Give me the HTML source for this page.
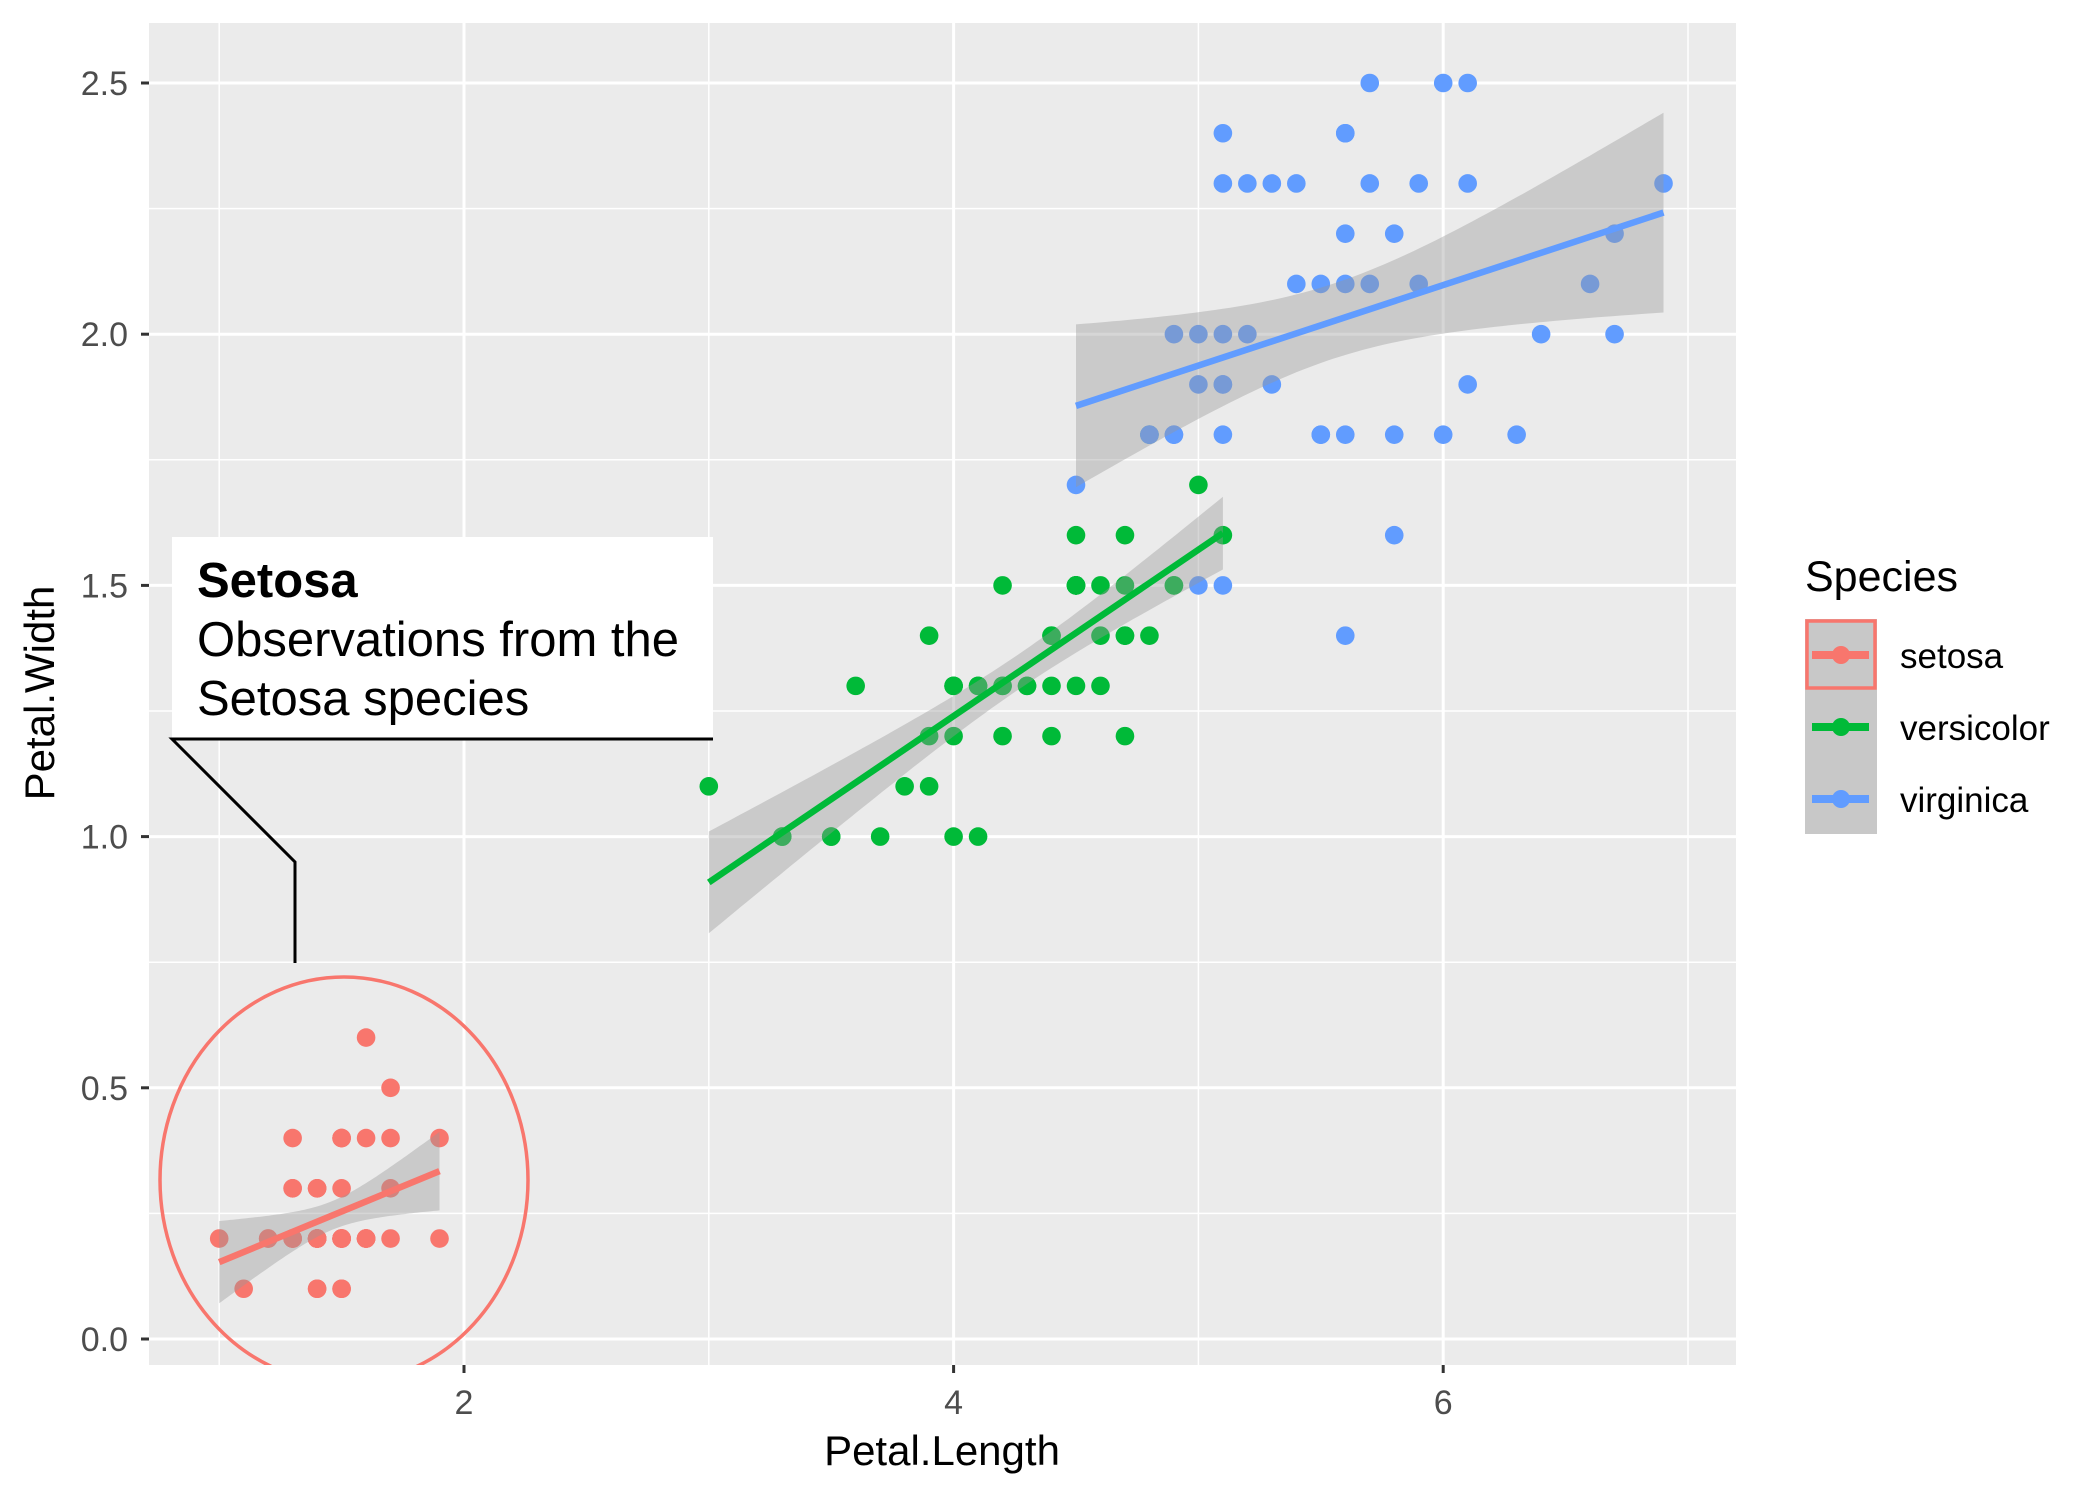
<!DOCTYPE html>
<html><head><meta charset="utf-8"><style>
html,body{margin:0;padding:0;background:#fff;}
svg text{font-family:"Liberation Sans",sans-serif;}
</style></head><body>
<svg id="chart" width="2100" height="1500" xmlns="http://www.w3.org/2000/svg">
<defs><clipPath id="panelClip"><rect x="149" y="23" width="1587" height="1342"/></clipPath></defs>
<rect x="149" y="23" width="1587" height="1342" fill="#EBEBEB"/>
<g id="grid"></g>
<g id="points" clip-path="url(#panelClip)"></g>
<g id="bands" clip-path="url(#panelClip)"></g>
<g id="lines" clip-path="url(#panelClip)"></g>
<ellipse clip-path="url(#panelClip)" cx="344" cy="1180" rx="184" ry="203" fill="none" stroke="#F8766D" stroke-width="3.5"/>
<g>
<rect x="172" y="537" width="541" height="202" fill="#fff"/>
<polyline points="713,739 172,739 295,862 295,963" fill="none" stroke="#000" stroke-width="3"/>
<text x="197" y="597" font-size="49" font-weight="bold">Setosa</text>
<text x="197" y="656" font-size="49">Observations from the</text>
<text x="197" y="715" font-size="49">Setosa species</text>
</g>
<g id="axes"></g>
<text x="942" y="1465" font-size="42" text-anchor="middle">Petal.Length</text>
<text transform="translate(54,693) rotate(-90)" font-size="42" text-anchor="middle">Petal.Width</text>
<g>
<text x="1805" y="591" font-size="43">Species</text>
<rect x="1805" y="619" width="72" height="215" fill="#C8C8C8"/>
<g id="legendKeys"></g>
</g>
</svg>
<script>
const species = ["setosa","versicolor","virginica"];
const colors = ["#F8766D","#00BA38","#619CFF"];
const setosaLength = [1.4,1.4,1.3,1.5,1.4,1.7,1.4,1.5,1.4,1.5,1.5,1.6,1.4,1.1,1.2,1.5,1.3,1.4,1.7,1.5,1.7,1.5,1.0,1.7,1.9,1.6,1.6,1.5,1.4,1.6,1.6,1.5,1.5,1.4,1.5,1.2,1.3,1.4,1.3,1.5,1.3,1.3,1.3,1.6,1.9,1.4,1.6,1.4,1.5,1.4];
const setosaWidth = [0.2,0.2,0.2,0.2,0.2,0.4,0.3,0.2,0.2,0.1,0.2,0.2,0.1,0.1,0.2,0.4,0.4,0.3,0.3,0.3,0.2,0.4,0.2,0.5,0.2,0.2,0.4,0.2,0.2,0.2,0.2,0.4,0.1,0.2,0.2,0.2,0.2,0.1,0.2,0.2,0.3,0.3,0.2,0.6,0.4,0.3,0.2,0.2,0.2,0.2];
const versicolorLength = [4.7,4.5,4.9,4.0,4.6,4.5,4.7,3.3,4.6,3.9,3.5,4.2,4.0,4.7,3.6,4.4,4.5,4.1,4.5,3.9,4.8,4.0,4.9,4.7,4.3,4.4,4.8,5.0,4.5,3.5,3.8,3.7,3.9,5.1,4.5,4.5,4.7,4.4,4.1,4.0,4.4,4.6,4.0,3.3,4.2,4.2,4.2,4.3,3.0,4.1];
const versicolorWidth = [1.4,1.5,1.5,1.3,1.5,1.3,1.6,1.0,1.3,1.4,1.0,1.5,1.0,1.4,1.3,1.4,1.5,1.0,1.5,1.1,1.8,1.3,1.5,1.2,1.3,1.4,1.4,1.7,1.5,1.0,1.1,1.0,1.2,1.6,1.5,1.6,1.5,1.3,1.3,1.3,1.2,1.4,1.2,1.0,1.3,1.2,1.3,1.3,1.1,1.3];
const virginicaLength = [6.0,5.1,5.9,5.6,5.8,6.6,4.5,6.3,5.8,6.1,5.1,5.3,5.5,5.0,5.1,5.3,5.5,6.7,6.9,5.0,5.7,4.9,6.7,4.9,5.7,6.0,4.8,4.9,5.6,5.8,6.1,6.4,5.6,5.1,5.6,6.1,5.6,5.5,4.8,5.4,5.6,5.1,5.1,5.9,5.7,5.2,5.0,5.2,5.4,5.1];
const virginicaWidth = [2.5,1.9,2.1,1.8,2.2,2.1,1.7,1.8,1.8,2.5,2.0,1.9,2.1,2.0,2.4,2.3,1.8,2.2,2.3,1.5,2.3,2.0,2.0,1.8,2.1,1.8,1.8,1.8,2.1,1.6,1.9,2.0,2.2,1.5,1.4,2.3,2.4,1.8,1.8,2.1,2.4,2.3,1.9,2.3,2.5,2.3,1.9,2.0,2.3,1.8];
const xTicks = [2,4,6];
const xTickLabels = ["2","4","6"];
const yTicks = [0,0.5,1,1.5,2,2.5];
const yTickLabels = ["0.0","0.5","1.0","1.5","2.0","2.5"];

const NS="http://www.w3.org/2000/svg";
const X = v => 464 + (v-2)*244.8;
const Y = v => 1339 - v*502.4;
const PL=149, PR=1736, PT=23, PB=1365;
function mk(tag, attrs, parent){const e=document.createElementNS(NS,tag);for(const k in attrs)e.setAttribute(k,attrs[k]);parent.appendChild(e);return e;}
const grid=document.getElementById('grid');
for(let v=1; v<=7; v+=2){const l=mk('line',{x1:X(v),x2:X(v),y1:PT,y2:PB,stroke:'#fff','stroke-width':1.5},grid);

}
for(let v=0.25; v<2.8; v+=0.5){const l=mk('line',{x1:PL,x2:PR,y1:Y(v),y2:Y(v),stroke:'#fff','stroke-width':1.5},grid);

}
xTicks.forEach(v=>{const l=mk('line',{x1:X(v),x2:X(v),y1:PT,y2:PB,stroke:'#fff','stroke-width':3},grid);

});
yTicks.forEach(v=>{const l=mk('line',{x1:PL,x2:PR,y1:Y(v),y2:Y(v),stroke:'#fff','stroke-width':3},grid);

});

const axes=document.getElementById('axes');
xTicks.forEach((v,i)=>{
const t=mk('line',{x1:X(v),x2:X(v),y1:PB,y2:PB+8,stroke:'#333','stroke-width':3},axes);


const tx=mk('text',{x:X(v),y:1414,'font-size':34,'text-anchor':'middle',fill:'#4D4D4D'},axes);tx.textContent=xTickLabels[i];

});
yTicks.forEach((v,i)=>{
const t=mk('line',{x1:PL-8,x2:PL,y1:Y(v),y2:Y(v),stroke:'#333','stroke-width':3},axes);


const tx=mk('text',{x:128,y:Y(v)+12,'font-size':34,'text-anchor':'end',fill:'#4D4D4D'},axes);tx.textContent=yTickLabels[i];

});

const series=[[setosaLength,setosaWidth],[versicolorLength,versicolorWidth],[virginicaLength,virginicaWidth]];
const bands=document.getElementById('bands'), pts=document.getElementById('points'), lines=document.getElementById('lines');
series.forEach((s,si)=>{
const xs=s[0], ys=s[1], n=xs.length;
const mx=xs.reduce((a,b)=>a+b)/n, my=ys.reduce((a,b)=>a+b)/n;
let sxx=0,sxy=0;for(let i=0;i<n;i++){sxx+=(xs[i]-mx)**2;sxy+=(xs[i]-mx)*(ys[i]-my);}
const b=sxy/sxx, a=my-b*mx;
let sse=0;for(let i=0;i<n;i++)sse+=(ys[i]-a-b*xs[i])**2;
const sig=Math.sqrt(sse/(n-2)), tq=2.0106;
const x0=Math.min(...xs), x1=Math.max(...xs);
const up=[],lo=[];
for(let k=0;k<=80;k++){const x=x0+(x1-x0)*k/80, f=a+b*x, se=sig*Math.sqrt(1/n+(x-mx)**2/sxx);
up.push(X(x).toFixed(1)+','+Y(f+tq*se).toFixed(1));lo.unshift(X(x).toFixed(1)+','+Y(f-tq*se).toFixed(1));}
const p=mk('polygon',{points:up.concat(lo).join(' '),fill:'#999999','fill-opacity':0.4},bands);


for(let i=0;i<n;i++){const c=mk('circle',{cx:X(xs[i]),cy:Y(ys[i]),r:9.3,fill:colors[si]},pts);

}
const l=mk('line',{x1:X(x0),y1:Y(a+b*x0),x2:X(x1),y2:Y(a+b*x1),stroke:colors[si],'stroke-width':6.5},lines);


});

const lk=document.getElementById('legendKeys');
species.forEach((sp,i)=>{
const cy=655+i*72;
const g=mk('g',{},lk);


const c=mk('circle',{cx:1841,cy:cy,r:9,fill:colors[i]},g);


const l=mk('line',{x1:1812,x2:1869,y1:cy,y2:cy,stroke:colors[i],'stroke-width':8},g);


const t=mk('text',{x:1900,y:cy+13,'font-size':35},g);t.textContent=sp;


});
const box=mk('rect',{x:1807,y:621,width:68,height:67,fill:'none',stroke:'#F8766D','stroke-width':3.5},lk);


</script>
</body></html>
